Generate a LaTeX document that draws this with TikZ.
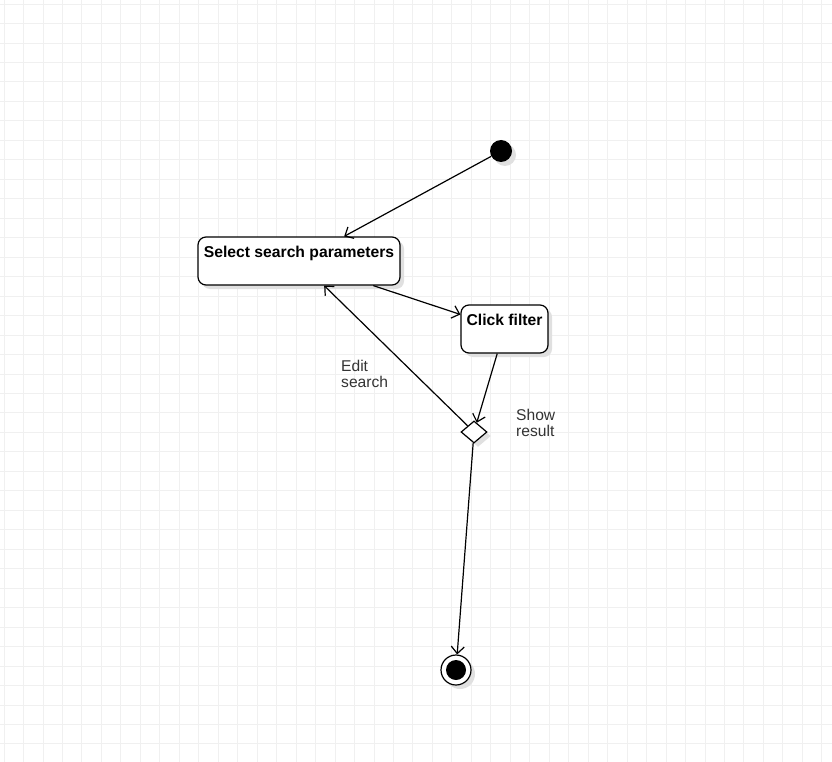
\documentclass[tikz,border=0pt]{standalone}
\usepackage{fontspec}
\setmainfont{Liberation Sans}
\usetikzlibrary{arrows.meta,positioning,shapes.geometric,shadows}
\tikzset{
  gridline/.style={draw=black!6,line width=0.8pt},
  shade/.style={drop shadow={shadow xshift=4pt,shadow yshift=-4pt,fill=black!12,opacity=1}},
  state/.style={draw,line width=1.2pt,rounded corners=8pt,fill=white,shade,inner sep=0pt},
  statetext/.style={inner sep=0pt,anchor=north,font=\fontsize{15.7}{16}\selectfont\bfseries},
  note/.style={inner sep=0pt,anchor=north west,align=left,text=black!80,
    font=\fontsize{15.6}{16}\selectfont},
  initial/.style={circle,fill=black,minimum size=22pt,inner sep=0pt,shade},
  choice/.style={diamond,draw,line width=1.2pt,fill=white,minimum width=26pt,
    minimum height=22pt,inner sep=0pt,shade},
  final/.style={circle,draw,line width=1.2pt,fill=white,minimum size=30pt,inner sep=0pt,shade},
  arrow/.style={-{Straight Barb[length=7pt,width=13pt]},line width=1.2pt}
}
\begin{document}
\begin{tikzpicture}[x=1pt,y=-1pt]
\useasboundingbox (0,0) rectangle (832,762);
\fill[white] (0,0) rectangle (832,762);
% background grid
\foreach \i in {0,...,42} \draw[gridline] ({4+19.47*\i},0) -- ({4+19.47*\i},762);
\foreach \i in {0,...,39} \draw[gridline] (0,{4+19.47*\i}) -- (832,{4+19.47*\i});
\node[initial] (start) at (501,151) {};
\node[state,minimum width=202pt,minimum height=48pt] (sel) at (299,261) {};
\node[statetext,below=10pt of sel.north] (seltext) {Select search parameters};
\node[state,minimum width=87pt,minimum height=48pt] (click) at (504.5,329) {};
\node[statetext,below=10pt of click.north] (clicktext) {Click filter};
\node[choice] (dec) at (474,432) {};
\node[final] (end) at (456,670) {};
\node[circle,fill=black,minimum size=20pt,inner sep=0pt] (endcore) at (end) {};
\node[note] (edit) at (341,360) {Edit\\search};
\node[note] (show) at (516,409) {Show\\result};
\draw[arrow] (start) -- (sel);
\draw[arrow] (sel) -- (click);
\draw[arrow] (click) -- (dec);
\draw[arrow] (dec) -- (sel);
\draw[arrow] (dec) -- (end);
\end{tikzpicture}
\end{document}
